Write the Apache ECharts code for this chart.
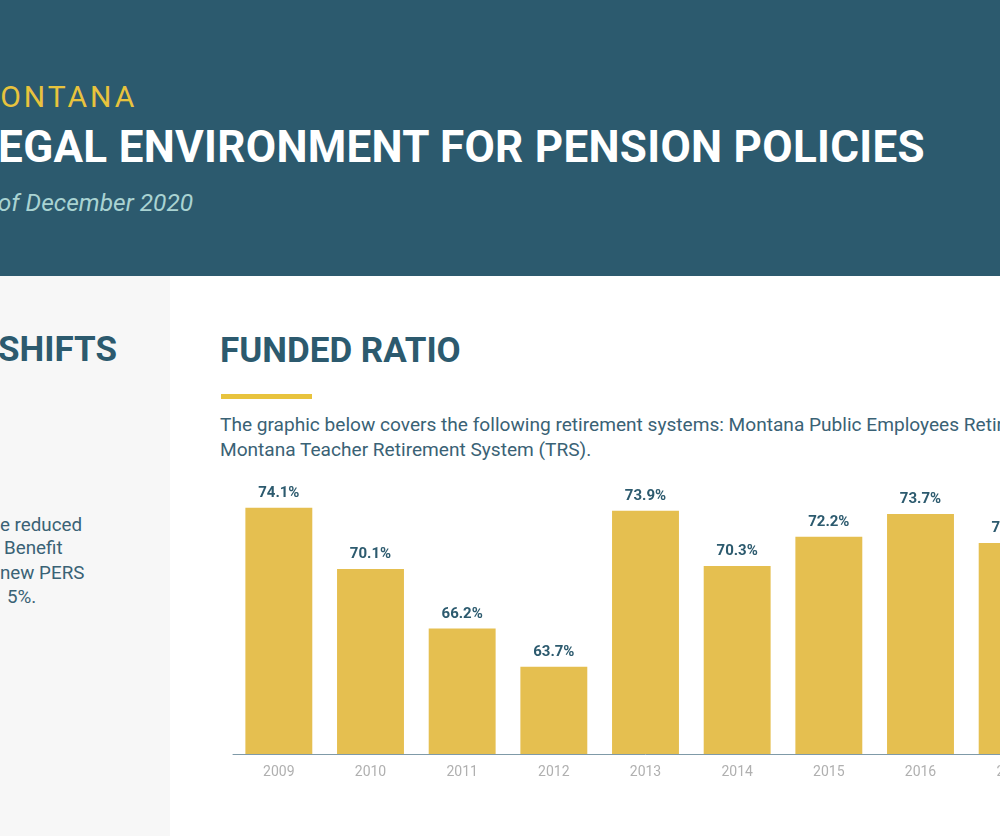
<!DOCTYPE html>
<html>
<head>
<meta charset="utf-8">
<script src="https://cdn.jsdelivr.net/npm/echarts@6/dist/echarts.min.js"></script>
<style>
    html, body { margin: 0; padding: 0; width: 1000px; height: 836px; overflow: hidden; background: #fff; font-family: Roboto, "Noto Sans", sans-serif; }
    .header { position: absolute; left: 0; top: 0; width: 1000px; height: 276px; background: #2c5a6e; overflow: hidden; }
    .state { position: absolute; left: -29px; top: 79px; color: #e8c33d; font-size: 30px; letter-spacing: 3px; white-space: nowrap; }
    .title { position: absolute; left: -26px; top: 121px; color: #fff; font-size: 44px; font-weight: bold; white-space: nowrap; letter-spacing: 0.3px; }
    .date { position: absolute; left: -36px; top: 188px; color: #a9d3d2; font-size: 24.5px; font-style: italic; white-space: nowrap; }
    .side { position: absolute; left: 0; top: 276px; width: 170px; height: 560px; background: #f7f7f7; overflow: hidden; }
    .side h2 { position: absolute; left: -2px; top: 53px; margin: 0; color: #2c5a6e; font-size: 35px; font-weight: bold; white-space: nowrap; }
    .side h2 span, .side .ln span { position: absolute; right: calc(100% + 10px); }
    .side .ln { position: absolute; margin: 0; color: #3a6275; font-size: 18.8px; line-height: 24px; white-space: nowrap; }
    .main h2 { position: absolute; left: 220px; top: 330px; margin: 0; color: #2c5a6e; font-size: 35px; font-weight: bold; white-space: nowrap; }
    .bar-line { position: absolute; left: 221px; top: 394px; width: 91px; height: 5px; background: #e8c33d; }
    .intro { position: absolute; left: 220px; top: 412px; margin: 0; color: #3a6275; font-size: 19.1px; line-height: 25px; white-space: nowrap; }
    #chart { position: absolute; left: 0; top: 470px; width: 1100px; height: 330px; }
</style>
</head>
<body>
<div class="header">
    <div class="state">MONTANA</div>
    <div class="title">LEGAL ENVIRONMENT FOR PENSION POLICIES</div>
    <div class="date">As of December 2020</div>
</div>
<div class="side">
    <h2><span>BENEFIT</span>SHIFTS</h2>
    <div class="ln" style="left:0; top:237px;"><span>Recent reforms have</span>e reduced</div>
    <div class="ln" style="left:4px; top:260px;"><span>the Defined</span>Benefit</div>
    <div class="ln" style="left:0; top:285px;"><span>multiplier for</span>new PERS</div>
    <div class="ln" style="left:7px; top:309px;"><span>members by</span>5%.</div>
</div>
<div class="main">
    <h2>FUNDED RATIO</h2>
    <div class="bar-line"></div>
    <p class="intro">The graphic below covers the following retirement systems: Montana Public Employees Retirement System (PERS) and<br>Montana Teacher Retirement System (TRS).</p>
</div>
<div id="chart"></div>
<script>
var years = ['2009', '2010', '2011', '2012', '2013', '2014', '2015', '2016', '2017'];
var funded = [74.1, 70.1, 66.2, 63.7, 73.9, 70.3, 72.2, 73.7, 71.8];

var myChart = echarts.init(document.getElementById('chart'));
var option = {
    animation: false,
    grid: {
        left: 233,
        top: 24,
        width: 825,
        height: 260
    },
    xAxis: {
        type: 'category',
        data: years,
        axisLine: { lineStyle: { color: '#7f9aa8', width: 1 } },
        axisTick: { show: false },
        axisLabel: {
            color: '#b0b0b0',
            fontSize: 14,
            margin: 11,
            fontFamily: 'Roboto'
        }
    },
    yAxis: {
        type: 'value',
        min: 58,
        max: 75,
        show: false,
        splitLine: { show: false }
    },
    series: [
        {
            type: 'bar',
            data: funded,
            barCategoryGap: '27%',
            itemStyle: { color: '#e5bf50' },
            label: {
                show: true,
                position: 'top',
                distance: 7,
                color: '#2c5a6e',
                fontSize: 15,
                fontWeight: 'bold',
                fontFamily: 'Roboto',
                formatter: function (p) { return p.value.toFixed(1) + '%'; }
            }
        }
    ]
};
myChart.setOption(option, true);
</script>
</body>
</html>
